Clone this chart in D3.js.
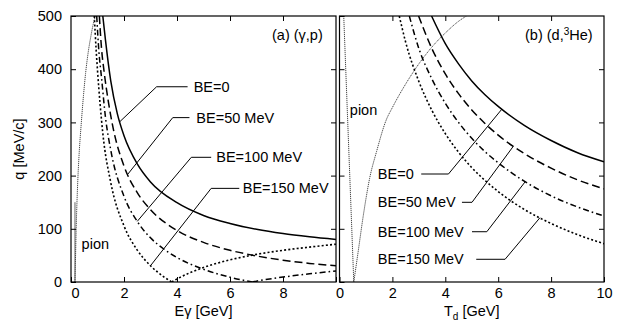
<!DOCTYPE html>
<html><head><meta charset="utf-8">
<script src="https://cdn.jsdelivr.net/npm/d3@7"></script>
<style>body{margin:0;background:#fff} text{font-family:"Liberation Sans",Arial,Helvetica,sans-serif}</style>
</head><body><svg id="c" width="618" height="321"></svg>
<script>
// ---------- data ----------
const xTicks = [0, 2, 4, 6, 8, 10];
const yTicks = [0, 100, 200, 300, 400, 500];
const leftXTickLabels = ["0", "2", "4", "6", "8", ""];
const rightXTickLabels = ["0", "2", "4", "6", "8", "10"];
const yTickLabels = ["0", "100", "200", "300", "400", "500"];
const beLabels = ["BE=0", "BE=50 MeV", "BE=100 MeV", "BE=150 MeV"];

// (a) (gamma,p): [E_gamma GeV, q MeV/c]
const pionLeftThreshold = [[0.15, 0], [0.15, 150]];
const pionLeft = [[0.15, 0], [0.17, 45], [0.2, 108], [0.26, 195], [0.3, 235], [0.39, 300], [0.47, 350], [0.55, 392], [0.65, 432], [0.75, 462], [0.85, 487], [0.92, 500]];
const be0Left = [[1.2, 500], [1.3, 455], [1.5, 378], [1.75, 316], [2, 275], [2.5, 222], [3, 188], [4, 149], [5, 125], [6, 110], [7, 99], [8, 91], [9, 85], [10, 80]];
const be50Left = [[1.07, 500], [1.15, 440], [1.25, 395], [1.4, 342], [1.6, 287], [2, 218], [2.5, 168], [3, 136], [4, 97], [5, 74.5], [6, 59.6], [7, 49], [8, 41], [9, 35], [10, 30.5]];
const be100Left = [[0.97, 500], [1.05, 435], [1.15, 385], [1.3, 310], [1.5, 248], [2, 161], [2.5, 114], [3, 83], [3.5, 62], [4, 46], [5, 24], [6, 9], [6.84, 0], [7, 1.6], [8, 9.3], [9, 15.3], [10, 20.8]];
const be150Left = [[0.88, 500], [0.95, 435], [1.0, 398], [1.2, 280], [1.5, 187], [2, 105.5], [2.5, 60], [3, 30.6], [3.5, 9.8], [3.8, 0], [4, 5.7], [5, 27.3], [6, 41.6], [7, 51.9], [8, 59.6], [9, 65.6], [10, 71]];

// (b) (d,3He): [T_d GeV, q MeV/c]
const pionRightA = [[0.16, 500], [0.54, 0]];
const pionRightB = [[0.54, 0], [0.7, 55], [0.9, 125], [1.14, 195], [1.4, 245], [1.77, 305], [2, 328], [2.5, 372], [3, 410], [3.5, 442], [4, 468], [4.5, 490], [4.8, 500]];
const be0Right = [[3.48, 500], [4, 448], [4.5, 410], [5, 378], [5.5, 352], [6, 330], [7, 294], [8, 266], [9, 243], [10, 226]];
const be50Right = [[2.99, 500], [3.5, 438], [4, 391], [4.5, 354], [5, 323.5], [5.5, 298], [6, 276], [7, 241], [8, 214], [9, 192], [10, 175]];
const be100Right = [[2.64, 500], [3, 439], [3.5, 381], [4, 336], [4.5, 300], [5, 270], [5.5, 245], [6, 224], [7, 189], [8, 162], [9, 141], [10, 124]];
const be150Right = [[2.26, 500], [2.5, 451], [3, 377], [3.5, 322], [4, 279], [4.5, 244], [5, 215], [5.5, 191], [6, 170], [7, 136], [8, 110], [9, 89], [10, 72]];

// ---------- layout ----------
const svg = d3.select("#c");
const FS = 14.5;
const Y0 = 282, Y1 = 16;
const y = d3.scaleLinear([0, 500], [Y0, Y1]);
const styles = [
  {dash: null, w: 1.5},
  {dash: "8,4", w: 1.5},
  {dash: "6,3,1.6,3", w: 1.5},
  {dash: "2,2.2", w: 1.6}
];

function interp(data, xv) {
  for (let i = 0; i < data.length - 1; i++) {
    const [xa, ya] = data[i], [xb, yb] = data[i + 1];
    if (xv >= xa && xv <= xb) return ya + (yb - ya) * (xv - xa) / (xb - xa);
  }
  return data[data.length - 1][1];
}
function splitAtZero(data) {
  const k = data.findIndex(d => d[1] === 0);
  if (k <= 0 || k === data.length - 1) return [data];
  return [data.slice(0, k + 1), data.slice(k)];
}

function panel(id, x0, x1, xLabels, showY, series, pions, threshold, ann, title, xlab, pionLbl) {
  const x = d3.scaleLinear([0, 10], [x0, x1]);
  const g = svg.append("g");
  const clipId = "clip" + id;
  svg.append("clipPath").attr("id", clipId).append("rect")
    .attr("x", x0).attr("y", Y1).attr("width", x1 - x0).attr("height", Y0 - Y1);

  const line = d3.line().x(d => x(d[0])).y(d => y(d[1])).curve(d3.curveMonotoneX);
  const lineLin = d3.line().x(d => x(d[0])).y(d => y(d[1]));
  const cg = g.append("g").attr("clip-path", `url(#${clipId})`);

  if (threshold) cg.append("path").attr("d", lineLin(threshold)).attr("fill", "none")
    .attr("stroke", "#666").attr("stroke-width", 1);
  pions.forEach(p => {
    cg.append("path").attr("d", p.length === 2 ? lineLin(p) : line(p)).attr("fill", "none")
      .attr("stroke", "#333").attr("stroke-width", 0.9).attr("stroke-dasharray", "1.2,0.8");
  });
  series.forEach((s, i) => {
    splitAtZero(s).forEach(part => {
      cg.append("path").attr("d", line(part)).attr("fill", "none").attr("stroke", "#000")
        .attr("stroke-width", styles[i].w).attr("stroke-dasharray", styles[i].dash);
    });
  });

  // leaders and labels
  ann.forEach((a, i) => {
    const tq = interp(series[i], a.target);
    g.append("path").attr("fill", "none").attr("stroke", "#000").attr("stroke-width", 1)
      .attr("d", `M${x(a.target)},${y(tq)}L${x(a.elbow[0])},${y(a.elbow[1])}L${x(a.hEnd)},${y(a.elbow[1])}`);
    g.append("text").attr("x", x(a.textX)).attr("y", y(a.elbow[1])).attr("dy", "0.35em")
      .attr("font-size", FS).attr("text-anchor", "start").text(beLabels[i]);
  });

  // axes
  const fmtX = (d, i) => xLabels[i];
  const ax = g.append("g").attr("transform", `translate(0,${Y0})`)
    .call(d3.axisBottom(x).tickValues(xTicks).tickSize(-5).tickPadding(6).tickFormat(fmtX));
  ax.select(".domain").remove();
  ax.selectAll("text").attr("font-size", FS).attr("font-family", null);
  if (id === "L") ax.selectAll("text").filter(d => d === 0).attr("dx", 4);
  g.append("g").attr("transform", `translate(0,${Y1})`)
    .call(d3.axisTop(x).tickValues(xTicks.slice(1, -1)).tickSize(-5).tickFormat(""))
    .select(".domain").remove();
  const ay = g.append("g").attr("transform", `translate(${x0},0)`)
    .call(d3.axisLeft(y).tickValues(yTicks).tickSize(-5).tickPadding(9)
      .tickFormat((d, i) => showY ? yTickLabels[i] : ""));
  ay.select(".domain").remove();
  ay.selectAll("text").attr("font-size", FS).attr("font-family", null);
  g.append("g").attr("transform", `translate(${x1},0)`)
    .call(d3.axisRight(y).tickValues(yTicks.slice(1, -1)).tickSize(-5).tickFormat(""))
    .select(".domain").remove();

  g.append("rect").attr("x", x0).attr("y", Y1).attr("width", x1 - x0).attr("height", Y0 - Y1)
    .attr("fill", "none").attr("stroke", "#000").attr("stroke-width", 1.2);

  // title
  title(g.append("text").attr("x", x(title.x)).attr("y", y(455)).attr("font-size", FS)
    .attr("text-anchor", "end"));
  // x label
  xlab(g.append("text").attr("x", (x0 + x1) / 2).attr("y", 316).attr("font-size", FS)
    .attr("text-anchor", "middle"));
  g.append("text").attr("x", x(pionLbl[0])).attr("y", y(pionLbl[1])).attr("dy", "0.35em")
    .attr("font-size", FS).text("pion");
}

const titleA = t => t.text("(a) (γ,p)"); titleA.x = 9.5;
const titleB = t => { t.text("(b) (d,"); t.append("tspan").attr("font-size", 10).attr("dy", -5).text("3"); t.append("tspan").attr("dy", 5).text("He)"); };
titleB.x = 9.57;

panel("L", 71, 336, leftXTickLabels, true,
  [be0Left, be50Left, be100Left, be150Left], [pionLeft], pionLeftThreshold,
  [
    {target: 1.84, elbow: [3.23, 367], hEnd: 4.40, textX: 4.63},
    {target: 2.15, elbow: [3.84, 309], hEnd: 4.47, textX: 4.73},
    {target: 2.5, elbow: [4.54, 234.4], hEnd: 5.29, textX: 5.48},
    {target: 3.0, elbow: [5.29, 176], hEnd: 6.35, textX: 6.48}
  ],
  titleA,
  t => t.text("Eγ [GeV]"),
  [0.4, 71]);

panel("R", 339.5, 604, rightXTickLabels, false,
  [be0Right, be50Right, be100Right, be150Right], [pionRightA, pionRightB], null,
  [
    {target: 6.14, elbow: [4.12, 203], hEnd: 3.09, textX: 1.45},
    {target: 6.58, elbow: [5.01, 149.8], hEnd: 4.63, textX: 1.45},
    {target: 7.02, elbow: [5.57, 94.5], hEnd: 5.01, textX: 1.45},
    {target: 7.58, elbow: [6.26, 42.7], hEnd: 5.17, textX: 1.45}
  ],
  titleB,
  t => { t.text("T"); t.append("tspan").attr("font-size", 10).attr("dy", 4).text("d"); t.append("tspan").attr("dy", -4).text(" [GeV]"); },
  [0.39, 323]);

// y label
svg.append("text").attr("transform", "translate(24,149) rotate(-90)").attr("text-anchor", "middle")
  .attr("font-size", FS).text("q [MeV/c]");
</script></body></html>
